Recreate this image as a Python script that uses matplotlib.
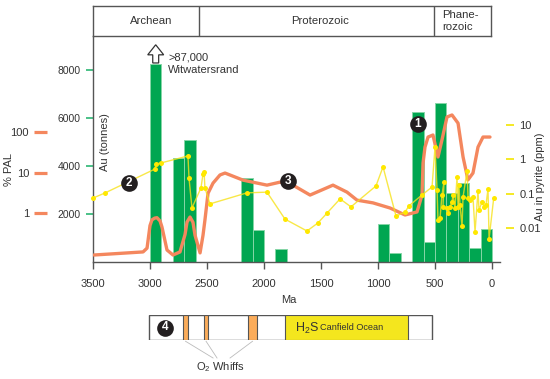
import matplotlib
matplotlib.use('Agg')
import matplotlib.pyplot as plt
import matplotlib.ticker as mt
from matplotlib.patches import Rectangle, Polygon

plt.rcParams['font.family'] = ['Liberation Sans', 'DejaVu Sans']
plt.rcParams['mathtext.fontset'] = 'custom'
plt.rcParams['mathtext.rm'] = 'Liberation Sans'
plt.rcParams['mathtext.it'] = 'Liberation Sans'
plt.rcParams['text.color'] = '#333333'

# ---------------- data ----------------
# Gold production bars (age interval in Ma, tonnes)
bar_start = [3000, 2800, 2700, 2200, 2100, 1900, 1000, 900, 700, 600, 500, 400, 300, 200, 100]
bar_end = [2900, 2700, 2600, 2100, 2000, 1800, 900, 800, 600, 500, 400, 300, 200, 100, 0]
au_tonnes = [8250, 4360, 5100, 3490, 1330, 540, 1580, 370, 6260, 830, 6640, 2900, 3280, 580, 1370]

# Atmospheric oxygen (% PAL)
pal_age = [3491, 3061, 3026, 3000, 2983, 2960, 2939, 2912, 2895, 2851, 2798, 2737, 2693, 2675,
           2649, 2623, 2605, 2561, 2535, 2518, 2491, 2447, 2386, 2342, 2184, 1974, 1860, 1746,
           1596, 1395, 1272, 1184, 1044, 895, 763, 658, 614, 605, 588, 561, 518, 474, 439, 395,
           351, 298, 254, 211, 167, 123, 79, 18]
pal_value = [0.095, 0.113, 0.14, 0.5, 0.69, 0.76, 0.78, 0.65, 0.46, 0.126, 0.095, 0.113, 0.3,
             0.61, 0.81, 0.6, 0.29, 0.107, 0.29, 0.69, 3.1, 5.5, 8.7, 9.7, 6.5, 4.9, 5.8, 4.9,
             2.8, 4.9, 3.3, 2.1, 1.8, 1.35, 0.91, 1.08, 2.8, 17, 42, 74, 83, 24, 63, 229, 257,
             162, 24, 6.6, 9.7, 42, 74, 74]

# Au in pyrite (ppm)
pyrite_age = [3500, 3395, 2956, 2947, 2904, 2667, 2658, 2632, 2553, 2535, 2526, 2518, 2474, 2149,
              1974, 1816, 1623, 1526, 1447, 1333, 1237, 1018, 956, 842, 763, 728, 614, 526, 500,
              482, 474, 456, 439, 421, 430, 395, 386, 368, 351, 342, 325, 307, 298, 290, 281,
              263, 254, 219, 210, 193, 167, 149, 123, 114, 88, 70, 53, 35, 26, -15]
pyrite_ppm = [0.074, 0.104, 0.52, 0.73, 0.78, 1.25, 0.285, 0.038, 0.146, 0.37, 0.43, 0.146, 0.050,
              0.105, 0.11, 0.018, 0.0081, 0.014, 0.027, 0.070, 0.041, 0.167, 0.60, 0.022, 0.029,
              0.044, 0.091, 0.156, 2.3, 0.127, 0.017, 0.019, 0.091, 0.22, 0.041, 0.038, 0.027,
              0.041, 0.057, 0.091, 0.038, 0.30, 0.041, 0.18, 0.047, 0.011, 0.080, 0.46, 0.075,
              0.065, 0.080, 0.0076, 0.12, 0.033, 0.057, 0.041, 0.047, 0.136, 0.0048, 0.075]

x_ticks = [3500, 3000, 2500, 2000, 1500, 1000, 500, 0]
tonne_ticks = [2000, 4000, 6000, 8000]
pal_ticks = [1, 10, 100]
pal_labels = ['1', '10', '100']
ppm_ticks = [0.01, 0.1, 1, 10]
ppm_labels = ['0.01', '0.1', '1', '10']

eras = ['Archean', 'Proterozoic', 'Phane-\nrozoic']
era_bounds = [3500, 2570, 510, 9]
era_label_x = [2991, 1509, 275]

whiffs = [(2710, 2667), (2526, 2491), (2140, 2061)]
canfield = (1816, 737)
panel_span = (3010, 525)

# ---------------- style ----------------
GREEN = '#00a651'
GREEN_EDGE = '#86d6a6'
GREEN_TICK = '#2bb673'
ORANGE = '#f4875e'
YELLOW = '#ffe800'
YELLOW_LINE = '#f7e21a'
GRAY = '#555555'
TXT = '#333333'

W, H = 550, 379
fig = plt.figure(figsize=(W / 100, H / 100), dpi=100)


def fx(px):
    return px / W


def fy(py):
    return 1 - py / H


rect = [fx(93), fy(262), fx(500) - fx(93), fy(36) - fy(262)]
ax = fig.add_axes(rect)
ax.bar(bar_start, au_tonnes, width=[e - s for s, e in zip(bar_start, bar_end)], align='edge',
       color=GREEN, edgecolor=GREEN_EDGE, linewidth=0.7, zorder=2)
ax.set_xlim(3500, -70)
ax.set_ylim(0, 9436)
for s in ['top', 'right']:
    ax.spines[s].set_visible(False)
for s in ['left', 'bottom']:
    ax.spines[s].set_color(GRAY)
    ax.spines[s].set_linewidth(1.0)
    ax.spines[s].set_zorder(6)
ax.set_xticks(x_ticks)
ax.set_xticklabels([str(t) for t in x_ticks])
ax.tick_params(axis='x', colors=GRAY, length=5, width=1, pad=7, labelsize=8, labelcolor=TXT)
ax.set_yticks(tonne_ticks)
ax.set_yticklabels([str(t) for t in tonne_ticks])
ax.tick_params(axis='y', colors=GREEN_TICK, length=5, width=1.2, pad=4, labelsize=7.5, labelcolor=TXT)

# Witwatersrand arrow
xc = (bar_start[0] + bar_end[0]) / 2
y0 = au_tonnes[0] + 60
y1 = y0 + 340
y2 = y1 + 420
arrow = Polygon([(xc + 26, y0), (xc + 26, y1), (xc + 70, y1), (xc, y2), (xc - 70, y1),
                 (xc - 26, y1), (xc - 26, y0)], closed=True, facecolor='white',
                edgecolor='#333333', linewidth=0.9, clip_on=False, zorder=5)
ax.add_patch(arrow)
ax.text(2842, 8518, '>87,000', fontsize=8, ha='left', va='center')
ax.text(2842, 8017, 'Witwatersrand', fontsize=8, ha='left', va='center')

# %PAL axis (orange)
ax_pal = ax.twinx()
ax_pal.set_yscale('log')
ax_pal.plot(pal_age, pal_value, color=ORANGE, lw=2.4, solid_joinstyle='round',
            solid_capstyle='round', zorder=3)
ax_pal.set_ylim(0.064, 22180)
ax_pal.yaxis.set_ticks_position('left')
ax_pal.spines['left'].set_position(('outward', 33.1))
for s in ax_pal.spines.values():
    s.set_visible(False)
ax_pal.set_yticks(pal_ticks)
ax_pal.set_yticklabels(pal_labels)
ax_pal.yaxis.set_minor_locator(mt.NullLocator())
ax_pal.tick_params(axis='y', colors=ORANGE, length=9.4, width=2.3, pad=3.6, labelsize=8,
                   labelcolor=TXT)

# Au in pyrite axis (yellow)
ax_py = ax.twinx()
ax_py.set_yscale('log')
ax_py.plot(pyrite_age, pyrite_ppm, color=YELLOW_LINE, lw=1.0, alpha=0.8, zorder=3, clip_on=False)
ax_py.plot(pyrite_age, pyrite_ppm, 'o', color=YELLOW, ms=3.6, mec='none', zorder=4, clip_on=False)
ax_py.set_ylim(0.00101, 3935)
ax_py.spines['right'].set_position(('outward', 4.3))
for s in ax_py.spines.values():
    s.set_visible(False)
ax_py.set_yticks(ppm_ticks)
ax_py.set_yticklabels(ppm_labels)
ax_py.yaxis.set_minor_locator(mt.NullLocator())
ax_py.tick_params(axis='y', colors='#f3e500', length=5.8, width=1.2, pad=4, labelsize=8,
                  labelcolor=TXT)

# overlay for numbered badges
ax_ann = fig.add_axes(rect, sharex=ax, sharey=ax)
ax_ann.set_axis_off()


def badge(a, x, y, s):
    a.plot(x, y, 'o', ms=12, color='#231f20', mec='none', clip_on=False, zorder=10)
    a.text(x, y, s, color='white', fontsize=8.5, fontweight='bold', ha='center',
           va='center', zorder=11)


badge(ax_ann, 649, 5762, '1')
badge(ax_ann, 3184, 3299, '2')
badge(ax_ann, 1789, 3382, '3')

# era box
ax_era = fig.add_axes([fx(93), fy(36), fx(491) - fx(93), fy(6) - fy(36)])
ax_era.set_xlim(era_bounds[0], era_bounds[-1])
ax_era.set_ylim(0, 1)
ax_era.set_xticks([])
ax_era.set_yticks([])
for s in ax_era.spines.values():
    s.set_color(GRAY)
    s.set_linewidth(1.0)
for b in era_bounds[1:-1]:
    ax_era.axvline(b, color=GRAY, lw=1.0)
for name, xl in zip(eras, era_label_x):
    ax_era.text(xl, 0.5, name, ha='center', va='center', fontsize=8.2,
                linespacing=1.15, multialignment='left')

# bottom panel
ax_b = fig.add_axes([fx(93), fy(340), fx(500) - fx(93), fy(315) - fy(340)])
ax_b.set_xlim(3500, -70)
ax_b.set_ylim(0, 1)
ax_b.set_axis_off()
ax_b.add_patch(Rectangle((panel_span[0], 0), panel_span[1] - panel_span[0], 1,
                         facecolor='white', edgecolor=GRAY, lw=1.0))
for a0, a1 in whiffs:
    ax_b.add_patch(Rectangle((a0, 0), a1 - a0, 1, facecolor='#fbac5a', edgecolor=GRAY, lw=0.8))
ax_b.add_patch(Rectangle((canfield[0], 0), canfield[1] - canfield[0], 1,
                         facecolor='#f4e61e', edgecolor=GRAY, lw=0.8))
ax_b.text(1728, 0.45, r'H$_2$S', fontsize=9, ha='left', va='center')
ax_b.text(1509, 0.5, 'Canfield Ocean', fontsize=6.6, ha='left', va='center')
badge(ax_b, 2868, 0.5, '4')
ends = [2447, 2412, 2298]
for (a0, a1), e in zip(whiffs, ends):
    ax_b.plot([(a0 + a1) / 2, e], [-0.05, -0.72], color='#bbbbbb', lw=0.6, clip_on=False)
ax_b.text(2386, -1.1, r'O$_2$ Whiffs', fontsize=8, ha='center', va='center')

# axis titles
fig.text(fx(105), fy(142), 'Au (tonnes)', rotation=90, ha='center', va='center', fontsize=8)
fig.text(fx(9), fy(170), '% PAL', rotation=90, ha='center', va='center', fontsize=8)
fig.text(fx(540), fy(177), 'Au in pyrite (ppm)', rotation=90, ha='center', va='center', fontsize=8)
fig.text(fx(289), fy(300), 'Ma', ha='center', va='center', fontsize=8)

fig.savefig('out.png', dpi=100)
